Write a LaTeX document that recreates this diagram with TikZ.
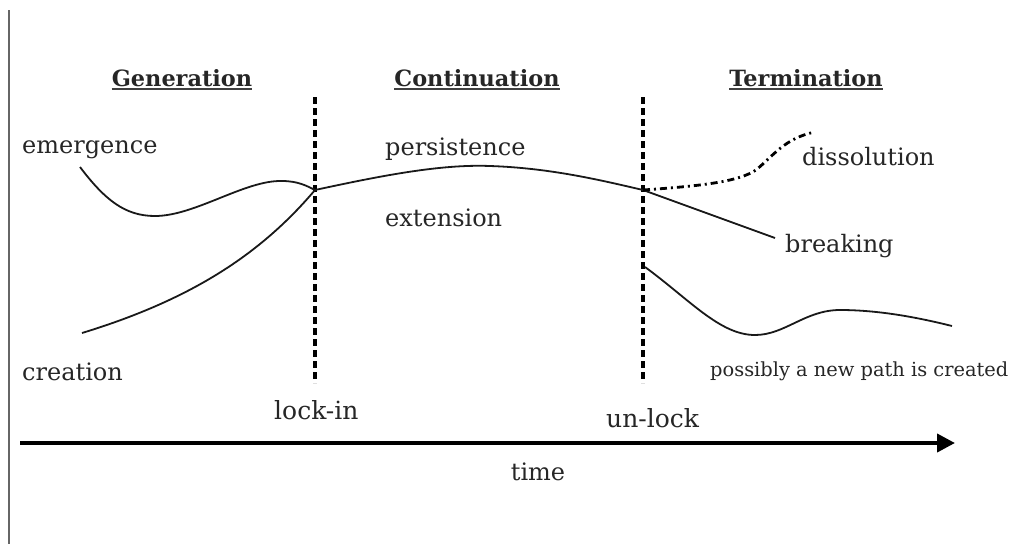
\documentclass[tikz,border=0pt]{standalone}
\usepackage{fontspec}
\setmainfont{DejaVu Serif}
\usetikzlibrary{arrows.meta}
\begin{document}
\begin{tikzpicture}[x=1pt,y=-1pt,
  lbl/.style={inner sep=0pt, anchor=base west, font=\fontsize{24}{28}\selectfont, text=black!85},
  phase/.style={inner sep=0pt, anchor=base, font=\bfseries\fontsize{22.4}{26}\selectfont, text=black!85},
  pathline/.style={line width=1.8pt, black!90},
  marker/.style={line width=3.2pt, dash pattern=on 7pt off 4pt},
]
\useasboundingbox (0,0) rectangle (1018,544);

% frame line at the left edge
\draw[line width=2pt, black!60] (9,10) -- (9,544);

% phase headings with underlines
\node[phase] (gen) at (182,86) {Generation};
\node[phase] (con) at (477,86) {Continuation};
\node[phase] (ter) at (806,86) {Termination};
\foreach \h in {gen,con,ter}
  \draw[line width=1.4pt, black!75] ([yshift=-3pt]\h.base west) -- ([yshift=-3pt]\h.base east);

% lock-in and un-lock markers
\coordinate (li-top) at (315,97);
\coordinate (li-bot) at (315,383);
\coordinate (ul-top) at (643,97);
\coordinate (ul-bot) at (643,383);
\draw[marker] (li-top) -- (li-bot);
\draw[marker] (ul-top) -- (ul-bot);

% junction points on the markers
\coordinate (lock) at (315,190);
\coordinate (unlock) at (643,190);

% path curves
\coordinate (em0) at (80,167);
\coordinate (cr0) at (82,333);
\draw[pathline] (em0) .. controls (105,200) and (125,216) .. (155,216)
  .. controls (195,216) and (245,180) .. (282,181)
  .. controls (298,181) and (307,186) .. (lock);
\draw[pathline] (cr0) .. controls (190,300) and (260,255) .. (lock);
\draw[pathline] (lock) .. controls (380,176) and (440,164) .. (490,166)
  .. controls (550,168) and (600,180) .. (unlock);

\coordinate (br1) at (775,238);
\draw[pathline] (unlock) -- (br1);

\coordinate (ds1) at (815,132);
\draw[line width=2.8pt, dash pattern=on 7pt off 4pt on 2pt off 4pt]
  (unlock) .. controls (700,186) and (738,182) .. (756,170)
  .. controls (773,156) and (785,138) .. (ds1);

\coordinate (np0) at (645,267);
\coordinate (np1) at (952,326);
\draw[pathline] (np0) .. controls (690,300) and (720,335) .. (755,335)
  .. controls (785,335) and (805,310) .. (840,310)
  .. controls (880,310) and (920,318) .. (np1);

% labels
\node[lbl] (emergence) at (22,153) {emergence};
\node[lbl] (creation) at (22,380) {creation};
\node[lbl] (persistence) at (385,155) {persistence};
\node[lbl] (extension) at (385,226) {extension};
\node[lbl] (dissolution) at (802,165) {dissolution};
\node[lbl] (breaking) at (785,252) {breaking};
\node[lbl, font=\fontsize{19.4}{22}\selectfont] (newpath) at (710,376) {possibly a new path is created};
\node[lbl, font=\fontsize{25}{28}\selectfont] (lockin) at (274,419) {lock-in};
\node[lbl, font=\fontsize{25}{28}\selectfont] (unlock-lbl) at (606,427) {un-lock};

% time axis
\coordinate (t0) at (20,443);
\coordinate (t1) at (955,443);
\draw[line width=4pt, -{Triangle[length=18pt,width=18pt]}] (t0) -- (t1);
\node[lbl, anchor=base] (time) at (538,480) {time};
\end{tikzpicture}
\end{document}
